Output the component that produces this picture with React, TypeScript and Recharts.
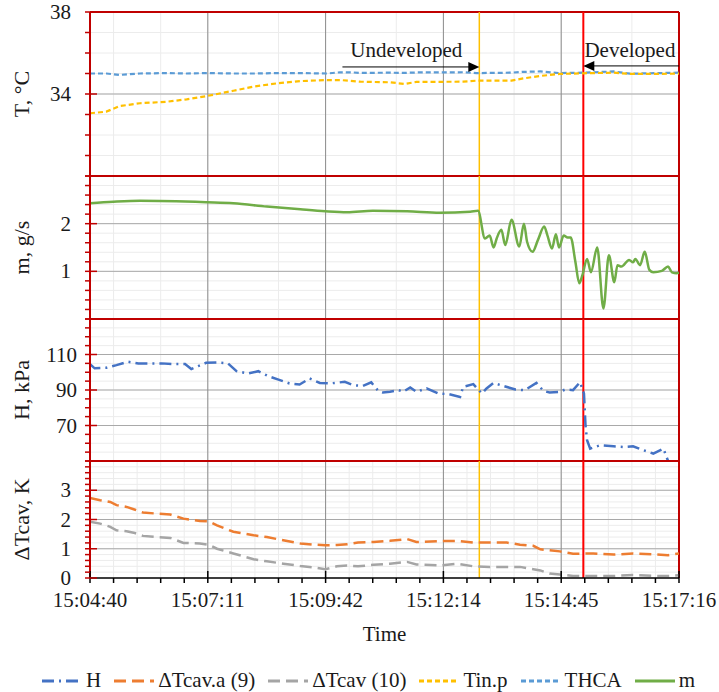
import React from "react";
import {
  LineChart,
  Line,
  XAxis,
  YAxis,
  CartesianGrid,
  ReferenceLine,
  ReferenceDot,
} from "recharts";

const FONT = '"Liberation Serif", "Times New Roman", serif';
const RED = "#C00000";
const INK = "#1a1a1a";

// time axis: seconds after 15:04:40
const START_SEC = 15 * 3600 + 4 * 60 + 40;
const X_MAX = 756;
const X_MAJOR = 151.2;
const X_MINOR = 30.24;
const T_UNDEV = 499.7; // yellow marker
const T_DEV = 633.2; // red marker

// panel 1: temperatures
const T_TIME = [0, 21, 38, 64, 98, 124, 150, 184, 210, 240, 270, 304, 321, 338, 347, 385, 404, 419, 479, 496, 541, 556, 578, 603, 633, 672, 693, 756];
const TIN_P = [33.06, 33.14, 33.41, 33.55, 33.62, 33.74, 33.9, 34.16, 34.36, 34.52, 34.63, 34.68, 34.68, 34.63, 34.6, 34.57, 34.49, 34.59, 34.6, 34.65, 34.65, 34.76, 34.88, 34.98, 35.01, 35.04, 34.98, 34.99];
const THCA = [35.0, 35.0, 34.93, 35.0, 35.02, 35.0, 35.02, 35.0, 35.0, 35.02, 35.02, 35.0, 35.06, 35.05, 35.03, 35.04, 35.03, 35.05, 35.06, 35.02, 35.04, 35.08, 35.1, 35.02, 35.04, 35.1, 34.99, 35.04];

// panel 2: mass flow
const M_TIME = [0, 30, 64, 150, 184, 227, 270, 302, 330, 363, 407, 449, 488, 498, 507, 513, 518, 522, 528, 533, 541, 551, 557, 561, 568, 575, 583, 587, 593, 598, 602, 608, 613, 617, 623, 628, 632, 638, 643, 651, 659, 666, 673, 677, 682, 692, 697, 700, 706, 712, 718, 723, 734, 742, 747, 753, 756];
const M_VAL = [2.43, 2.46, 2.48, 2.45, 2.43, 2.36, 2.3, 2.26, 2.24, 2.27, 2.26, 2.23, 2.25, 2.27, 1.69, 1.75, 1.5, 1.69, 1.87, 1.55, 2.08, 1.52, 2.0, 1.62, 1.41, 1.66, 1.94, 1.76, 1.48, 1.78, 1.5, 1.75, 1.71, 1.71, 1.2, 0.75, 0.92, 1.26, 0.98, 1.5, 0.22, 1.34, 0.77, 1.13, 1.1, 1.24, 1.19, 1.26, 1.13, 1.41, 1.03, 0.98, 1.01, 1.1, 0.98, 0.96, 0.97];

// panel 3: head
const H_TIME = [0, 6, 21, 34, 49, 62, 92, 109, 122, 130, 139, 149, 164, 177, 188, 203, 216, 229, 241, 256, 269, 282, 295, 308, 327, 338, 350, 361, 370, 376, 385, 396, 402, 411, 419, 432, 447, 460, 475, 479, 492, 503, 509, 518, 531, 546, 558, 573, 582, 590, 603, 610, 620, 629, 634, 636, 638, 642, 655, 672, 685, 697, 708, 723, 736, 744, 752];
const H_VAL = [104.6, 102.2, 102.5, 104, 105.9, 105, 105, 104.6, 104.6, 101.8, 103.5, 105.3, 105.5, 105, 100.6, 99.3, 100.6, 97.8, 96, 93.7, 93.1, 96.5, 94, 93.7, 94.6, 92.7, 92.3, 94.3, 89.5, 88.6, 89, 89.9, 89, 91.4, 89, 90.9, 88, 87.7, 86.1, 91.8, 93.3, 88, 90.9, 94, 92.2, 90.3, 89.9, 94, 89.5, 88.6, 89, 90.3, 89.9, 94.4, 88, 70, 61.7, 57, 58.9, 58.3, 57.9, 58.3, 56.4, 54.2, 57, 47.6, 36];

// panel 4: cavitation temperature differences
const D_TIME = [0, 13, 26, 34, 47, 56, 68, 86, 103, 120, 141, 152, 163, 184, 210, 227, 248, 270, 287, 302, 317, 330, 344, 364, 385, 407, 419, 449, 471, 492, 513, 535, 552, 569, 578, 590, 603, 620, 646, 672, 697, 723, 742, 756];
const DT_A9 = [2.74, 2.66, 2.6, 2.49, 2.43, 2.35, 2.24, 2.2, 2.17, 2.03, 1.95, 1.94, 1.8, 1.58, 1.46, 1.4, 1.29, 1.18, 1.14, 1.12, 1.13, 1.15, 1.21, 1.23, 1.27, 1.33, 1.23, 1.26, 1.27, 1.21, 1.21, 1.21, 1.14, 1.1, 0.98, 0.95, 0.91, 0.83, 0.84, 0.8, 0.84, 0.81, 0.78, 0.84];
const DT_10 = [1.92, 1.86, 1.75, 1.63, 1.6, 1.55, 1.44, 1.4, 1.37, 1.2, 1.18, 1.14, 1.0, 0.84, 0.64, 0.57, 0.49, 0.41, 0.36, 0.3, 0.4, 0.43, 0.4, 0.45, 0.49, 0.55, 0.46, 0.43, 0.49, 0.4, 0.38, 0.38, 0.38, 0.3, 0.26, 0.15, 0.12, 0.07, 0.07, 0.07, 0.1, 0.07, 0.07, 0.09];

// y-axis tick labels per panel
const T_LABELS = [34, 38];
const M_LABELS = [1, 2];
const H_LABELS = [70, 90, 110];
const D_LABELS = [0, 1, 2, 3];

function steps(lo: number, hi: number, step: number) {
  const out: number[] = [];
  const n = Math.round((hi - lo) / step);
  for (let i = 0; i <= n; i++) out.push(Math.round((lo + i * step) * 1000) / 1000);
  return out;
}

const X_TICKS = steps(0, X_MAX, X_MINOR);
const X_LABELS = steps(0, X_MAX, X_MAJOR);

const pad = (n: number) => String(n).padStart(2, "0");
function clock(t: number) {
  const s = Math.round(START_SEC + t);
  return `${Math.floor(s / 3600)}:${pad(Math.floor((s % 3600) / 60))}:${pad(s % 60)}`;
}

const tData = T_TIME.map((t, i) => ({ t, tin: TIN_P[i], thca: THCA[i] }));
const mData = M_TIME.map((t, i) => ({ t, m: M_VAL[i] }));
const hData = H_TIME.map((t, i) => ({ t, h: H_VAL[i] }));
const dData = D_TIME.map((t, i) => ({ t, a9: DT_A9[i], c10: DT_10[i] }));

const YTick = ({ x, y, payload, labels, gap }: any) => {
  const v = payload.value;
  const major = labels.includes(v);
  return (
    <g>
      <line x1={x - 5} x2={major ? x + 7 : x} y1={y} y2={y} stroke={RED} strokeWidth={1.5} />
      {major && (
        <text x={x - gap} y={y} textAnchor="end" dominantBaseline="central" fontFamily={FONT} fontSize={21} fill={INK}>
          {v}
        </text>
      )}
    </g>
  );
};

const XTick = ({ x, y, payload }: any) => {
  const v = payload.value;
  const major = X_LABELS.some((m) => Math.abs(m - v) < 0.01);
  return (
    <g>
      <line x1={x} x2={x} y1={major ? y - 7 : y} y2={y + 5} stroke="#000" strokeWidth={1.5} />
      {major && (
        <text x={x} y={y + 22} textAnchor="middle" dominantBaseline="central" fontFamily={FONT} fontSize={21} fill={INK}>
          {clock(v)}
        </text>
      )}
    </g>
  );
};

const yTitle = (text: string) => (p: any) => {
  const vb = p.viewBox || { x: 0, y: 0, height: 0 };
  const cx = vb.x + 29;
  const cy = vb.y + vb.height / 2;
  return (
    <text x={cx} y={cy} transform={`rotate(-90, ${cx}, ${cy})`} textAnchor="middle" fontFamily={FONT} fontSize={22} fill={INK}>
      {text}
    </text>
  );
};

const xTitle = (p: any) => {
  const vb = p.viewBox || { x: 0, y: 0, width: 0 };
  return (
    <text x={vb.x + vb.width / 2} y={vb.y + 56} textAnchor="middle" dominantBaseline="central" fontFamily={FONT} fontSize={21} fill={INK}>
      Time
    </text>
  );
};

const arrowRight = (p: any) => (
  <polygon points={`${p.cx},${p.cy} ${p.cx - 11},${p.cy - 5} ${p.cx - 11},${p.cy + 5}`} fill="#000" />
);
const arrowLeft = (p: any) => (
  <polygon points={`${p.cx},${p.cy} ${p.cx + 11},${p.cy - 5} ${p.cx + 11},${p.cy + 5}`} fill="#000" />
);
const note = (text: string) => (p: any) => (
  <text x={p.cx} y={p.cy} textAnchor="middle" dominantBaseline="central" fontFamily={FONT} fontSize={21} fill={INK}>
    {text}
  </text>
);

const W = 719;
const MARGIN_R = 40;

function grids(minorY: number[], majorY: number[]) {
  return [
    <CartesianGrid key="g1" horizontalValues={minorY} verticalValues={X_TICKS} stroke="#ECECEC" strokeWidth={1} />,
    <CartesianGrid key="g2" horizontalValues={majorY} vertical={false} stroke="#A9A9A9" strokeWidth={1} />,
    <CartesianGrid key="g3" verticalValues={X_LABELS} horizontal={false} stroke="#8C8C8C" strokeWidth={1} />,
  ];
}

function frame(lo: number, hi: number, bottom: boolean) {
  return [
    <ReferenceLine key="f1" y={hi} stroke={RED} strokeWidth={2} />,
    bottom ? <ReferenceLine key="f2" y={lo} stroke={RED} strokeWidth={2} /> : null,
    <ReferenceLine key="f3" x={X_MAX} stroke={RED} strokeWidth={2} />,
    <ReferenceLine key="f4" x={T_UNDEV} stroke="#FFC000" strokeWidth={1.5} />,
    <ReferenceLine key="f5" x={T_DEV} stroke="#FF0000" strokeWidth={2} />,
  ];
}

const hiddenX = (
  <XAxis type="number" dataKey="t" domain={[0, X_MAX]} ticks={X_TICKS} hide allowDataOverflow />
);

function yAxis(domain: [number, number], ticks: number[], labels: number[], gap: number, title: string) {
  return (
    <YAxis
      type="number"
      domain={domain}
      ticks={ticks}
      interval={0}
      width={90}
      tickSize={0}
      tickMargin={0}
      tickLine={false}
      axisLine={{ stroke: RED, strokeWidth: 2 }}
      tick={<YTick labels={labels} gap={gap} />}
      allowDataOverflow
      label={yTitle(title)}
    />
  );
}

const LEGEND = [
  { name: "H", color: "#4472C4", dash: "12 5 2 5" },
  { name: "ΔTcav.a (9)", color: "#ED7D31", dash: "12 6" },
  { name: "ΔTcav (10)", color: "#A5A5A5", dash: "12 6" },
  { name: "Tin.p", color: "#FFC000", dash: "5 3" },
  { name: "THCA", color: "#5B9BD5", dash: "5 3" },
  { name: "m", color: "#70AD47", dash: "" },
];

export default function App() {
  return (
    <div style={{ position: "absolute", left: 0, top: 0, width: W, height: 692, background: "#fff", fontFamily: FONT }}>
      <div style={{ position: "absolute", left: 0, top: 0 }}>
        <LineChart width={W} height={186} data={tData} margin={{ top: 12, right: MARGIN_R, bottom: 10, left: 0 }}>
          {grids(steps(30, 38, 1), [34])}
          {hiddenX}
          {yAxis([30, 38], steps(30, 38, 1), T_LABELS, 19, "T, °C")}
          {frame(30, 38, true)}
          <Line dataKey="thca" stroke="#5B9BD5" strokeWidth={2.2} strokeDasharray="5 3" dot={false} isAnimationActive={false} />
          <Line dataKey="tin" stroke="#FFC000" strokeWidth={2.2} strokeDasharray="5 3" dot={false} isAnimationActive={false} />
          <ReferenceLine segment={[{ x: 324, y: 35.32 }, { x: 490, y: 35.32 }]} stroke="#000" strokeWidth={1} />
          <ReferenceDot x={T_UNDEV} y={35.32} shape={arrowRight} />
          <ReferenceDot x={406} y={36.15} shape={note("Undeveloped")} />
          <ReferenceLine segment={[{ x: 643, y: 35.37 }, { x: X_MAX, y: 35.37 }]} stroke="#000" strokeWidth={1} />
          <ReferenceDot x={T_DEV} y={35.37} shape={arrowLeft} />
          <ReferenceDot x={693} y={36.15} shape={note("Developed")} />
        </LineChart>
      </div>

      <div style={{ position: "absolute", left: 0, top: 166 }}>
        <LineChart width={W} height={163} data={mData} margin={{ top: 10, right: MARGIN_R, bottom: 10, left: 0 }}>
          {grids(steps(0, 3, 0.2), [1, 2])}
          {hiddenX}
          {yAxis([0, 3], steps(0, 3, 0.2), M_LABELS, 19, "m, g/s")}
          {frame(0, 3, true)}
          <Line type="monotone" dataKey="m" stroke="#70AD47" strokeWidth={2.5} dot={false} isAnimationActive={false} />
        </LineChart>
      </div>

      <div style={{ position: "absolute", left: 0, top: 309 }}>
        <LineChart width={W} height={162} data={hData} margin={{ top: 10, right: MARGIN_R, bottom: 10, left: 0 }}>
          {grids(steps(50, 130, 5), [70, 90, 110])}
          {hiddenX}
          {yAxis([50, 130], steps(50, 130, 5), H_LABELS, 13, "H, kPa")}
          {frame(50, 130, true)}
          <Line dataKey="h" stroke="#4472C4" strokeWidth={2.5} strokeDasharray="12 5 2 5" dot={false} isAnimationActive={false} />
        </LineChart>
      </div>

      <div style={{ position: "absolute", left: 0, top: 451 }}>
        <LineChart width={W} height={197} data={dData} margin={{ top: 10, right: MARGIN_R, bottom: 0, left: 0 }}>
          {grids(steps(0, 4, 0.2), [1, 2, 3])}
          <XAxis
            type="number"
            dataKey="t"
            domain={[0, X_MAX]}
            ticks={X_TICKS}
            interval={0}
            height={70}
            tickSize={0}
            tickMargin={0}
            tickLine={false}
            axisLine={{ stroke: "#000", strokeWidth: 1.5 }}
            tick={<XTick />}
            allowDataOverflow
            label={xTitle}
          />
          {yAxis([0, 4], steps(0, 4, 0.2), D_LABELS, 19, "ΔTcav, K")}
          {frame(0, 4, false)}
          <Line dataKey="a9" stroke="#ED7D31" strokeWidth={2.5} strokeDasharray="12 6" dot={false} isAnimationActive={false} />
          <Line dataKey="c10" stroke="#A5A5A5" strokeWidth={2.5} strokeDasharray="12 6" dot={false} isAnimationActive={false} />
        </LineChart>
      </div>

      <div
        style={{
          position: "absolute",
          left: 41,
          top: 670,
          display: "flex",
          alignItems: "center",
          gap: 12,
          fontSize: 21,
          color: INK,
          whiteSpace: "nowrap",
          lineHeight: "21px",
          height: 21,
        }}
      >
        {LEGEND.map((it) => (
          <div key={it.name} style={{ display: "flex", alignItems: "center", gap: 3 }}>
            <svg width={42} height={10}>
              <line x1={1} x2={41} y1={5} y2={5} stroke={it.color} strokeWidth={3} strokeDasharray={it.dash || undefined} />
            </svg>
            <span>{it.name}</span>
          </div>
        ))}
      </div>
    </div>
  );
}
